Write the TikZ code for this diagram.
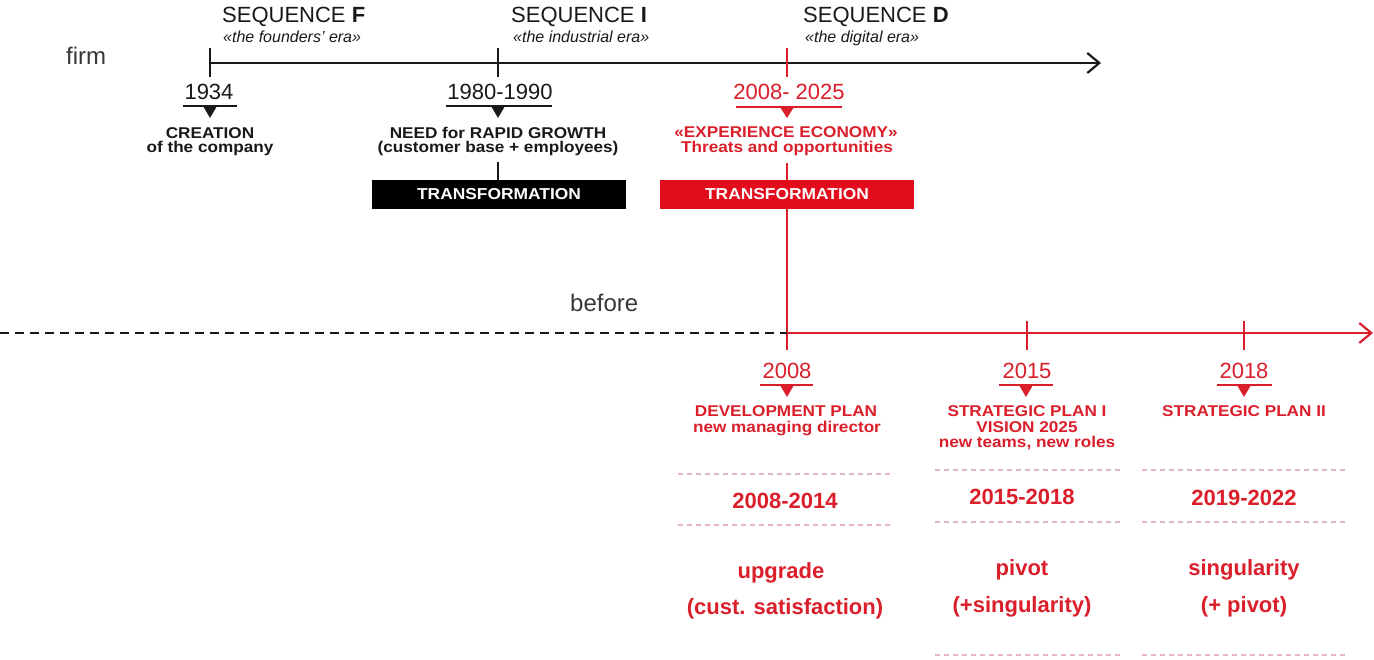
\documentclass[tikz,border=0pt]{standalone}
\usepackage{fontspec}
\setmainfont{Liberation Sans}
\newfontfamily\lblfont[FakeStretch=1.1]{Liberation Sans}
\usetikzlibrary{arrows.meta}
\definecolor{tred}{RGB}{218,30,42}
\definecolor{boxred}{RGB}{226,12,28}
\definecolor{lpink}{RGB}{232,180,192}
\definecolor{ink}{RGB}{25,25,25}
\definecolor{grayink}{RGB}{55,55,55}
\tikzset{
  yr/.style={font=\fontsize{22}{22}\selectfont, anchor=base, inner sep=0pt},
  lbl/.style={font=\lblfont\fontsize{15.6}{15}\selectfont\bfseries, anchor=base, inner sep=0pt},
  big/.style={font=\fontsize{22}{22}\selectfont\bfseries, anchor=base, inner sep=0pt},
  seq/.style={font=\fontsize{22}{22}\selectfont, anchor=base west, inner sep=0pt, ink},
  era/.style={font=\fontsize{16}{16}\selectfont\itshape, anchor=base west, inner sep=0pt, ink},
  side/.style={font=\fontsize{24}{24}\selectfont, anchor=base west, inner sep=0pt, grayink},
  tickline/.style={line width=2pt},
  uline/.style={line width=2pt},
  tband/.style={minimum width=254pt, minimum height=29pt, inner sep=0pt,
    font=\lblfont\fontsize{15.8}{15.8}\selectfont\bfseries, text=white},
  pinkdash/.style={lpink, line width=1.2pt, dash pattern=on 5pt off 4pt},
  barb/.style={-{Straight Barb[length=12pt,width=20pt,line width=2.2pt]}},
}
\begin{document}
\begin{tikzpicture}[x=1pt,y=-1pt]
\useasboundingbox (0,0) rectangle (1374,660);

% ---------------- top timeline (firm) ----------------
\node[side] (firm) at (66,65) {firm};
\coordinate (tF) at (210,63);
\coordinate (tI) at (498,63);
\coordinate (tD) at (787,63);
\coordinate (tEnd) at (1101,63);
\draw[ink, line width=2pt, barb] (tF) -- (tEnd);
\draw[ink, tickline] (210,48) -- (210,77);
\draw[ink, tickline] (498,48) -- (498,77);
\draw[tred, tickline] (787,48) -- (787,77);

\node[seq] (seqF) at (222,23) {SEQUENCE \textbf{F}};
\node[era] (eraF) at (223,43) {«the founders’ era»};
\node[seq] (seqI) at (511,23) {SEQUENCE \textbf{I}};
\node[era] (eraI) at (513,43) {«the industrial era»};
\node[seq] (seqD) at (803,23) {SEQUENCE \textbf{D}};
\node[era] (eraD) at (805,43) {«the digital era»};

% 1934
\node[yr, ink] (y1934) at (209,100) {1934};
\draw[ink, uline] (183,106) -- (237,106);
\fill[ink] (203,106) -- (217,106) -- (210,118) -- cycle;
\node[lbl, ink] (cre1) at (210,139) {CREATION};
\node[lbl, ink] (cre2) at (210,153) {of the company};

% 1980-1990
\node[yr, ink] (y1980) at (500,100) {1980-1990};
\draw[ink, uline] (446,106) -- (552,106);
\fill[ink] (491,106) -- (505,106) -- (498,118) -- cycle;
\node[lbl, ink] (need1) at (498,139) {NEED for RAPID GROWTH};
\node[lbl, ink] (need2) at (498,153) {(customer base + employees)};
\coordinate (needFoot) at (498,162);

% 2008-2025
\node[yr, tred] (y2008a) at (789,100) {2008- 2025};
\draw[tred, uline] (736,107) -- (842,107);
\fill[tred] (780,107) -- (794,107) -- (787,118) -- cycle;
\node[lbl, tred] (exp1) at (786,138) {«EXPERIENCE ECONOMY»};
\node[lbl, tred] (exp2) at (787,153) {Threats and opportunities};
\coordinate (expFoot) at (787,163);
\coordinate (bottomFoot) at (787,350);

% vertical connectors
\draw[tred, line width=2pt] (expFoot) -- (bottomFoot);
\node[tband, fill=black] (box1) at (499,194.5) {TRANSFORMATION};
\draw[ink, line width=2pt] (needFoot) -- (needFoot |- box1.north);
\node[tband, fill=boxred] (box2) at (787,194.5) {TRANSFORMATION};

% ---------------- bottom timeline (before) ----------------
\node[side] (before) at (570,312) {before};
\coordinate (bStart) at (0,333);
\coordinate (bMid) at (787,333);
\coordinate (bEnd) at (1373,333);
\draw[ink, line width=2pt, dash pattern=on 9pt off 6pt] (bStart) -- (bMid);
\draw[tred, line width=2pt, barb] (bMid) -- (bEnd);
\draw[tred, tickline] (1027,321) -- (1027,350);
\draw[tred, tickline] (1244,321) -- (1244,350);

% 2008
\node[yr, tred] (y2008) at (787,378) {2008};
\draw[tred, uline] (760,385) -- (813,385);
\fill[tred] (780,385) -- (794,385) -- (787,397) -- cycle;
\node[lbl, tred] (dev1) at (786,417) {DEVELOPMENT PLAN};
\node[lbl, tred] (dev2) at (787,432) {new managing director};

% 2015
\node[yr, tred] (y2015) at (1027,378) {2015};
\draw[tred, uline] (999,385) -- (1053,385);
\fill[tred] (1019,385) -- (1033,385) -- (1026,397) -- cycle;
\node[lbl, tred] (sp1a) at (1027,417) {STRATEGIC PLAN I};
\node[lbl, tred] (sp1b) at (1027,432) {VISION 2025};
\node[lbl, tred] (sp1c) at (1027,447) {new teams, new roles};

% 2018
\node[yr, tred] (y2018) at (1244,378) {2018};
\draw[tred, uline] (1217,385) -- (1272,385);
\fill[tred] (1237,385) -- (1251,385) -- (1244,397) -- cycle;
\node[lbl, tred] (sp2) at (1244,417) {STRATEGIC PLAN II};

% dashed separators
\draw[pinkdash] (678,474) -- (893,474);
\draw[pinkdash] (678,525) -- (893,525);
\draw[pinkdash] (935,470) -- (1120,470);
\draw[pinkdash] (935,522) -- (1120,522);
\draw[pinkdash] (935,655) -- (1120,655);
\draw[pinkdash] (1142,470) -- (1348,470);
\draw[pinkdash] (1142,522) -- (1348,522);
\draw[pinkdash] (1142,655) -- (1348,655);

% periods
\node[big, tred] (p1) at (785,508) {2008-2014};
\node[big, tred] (p2) at (1022,504) {2015-2018};
\node[big, tred] (p3) at (1244,505) {2019-2022};

\node[big, tred] (m1a) at (781,578) {upgrade};
\node[big, tred] (m1b) at (785,614) {(cust. satisfaction)};
\node[big, tred] (m2a) at (1022,575) {pivot};
\node[big, tred] (m2b) at (1022,612) {(+singularity)};
\node[big, tred] (m3a) at (1244,575) {singularity};
\node[big, tred] (m3b) at (1244,612) {(+ pivot)};
\end{tikzpicture}
\end{document}
